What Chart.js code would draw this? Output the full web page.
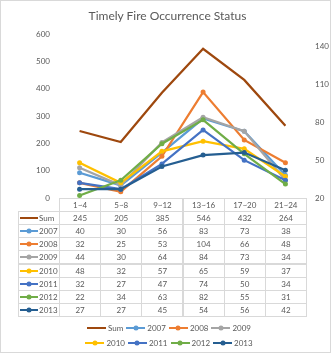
<!DOCTYPE html>
<html><head><meta charset="utf-8">
<script src="https://cdn.jsdelivr.net/npm/chart.js@4.4.1/dist/chart.umd.min.js"></script>
<style>
html,body{margin:0;padding:0;background:#fff;}
#wrap{position:relative;width:331px;height:353px;overflow:hidden;background:#fff;font-family:Lato,"Liberation Sans",sans-serif;color:#595959;}
#c{position:absolute;left:0;top:0;}
#frame{position:absolute;left:0;top:0;width:331px;height:353px;box-sizing:border-box;border:1px solid #d9d9d9;pointer-events:none;}
#title{position:absolute;left:0;top:8px;width:335px;text-align:center;font-size:12px;color:#595959;white-space:nowrap;}
.cell{position:absolute;box-sizing:border-box;border:1px solid #d9d9d9;display:flex;align-items:center;justify-content:center;font-size:8px;color:#595959;white-space:nowrap;}
.lab{justify-content:flex-start;padding-left:1px;border-color:#d9d9d9;}
.key{position:relative;display:inline-block;width:18px;height:2px;margin-right:1px;}
.dot{position:absolute;left:50%;top:50%;width:5px;height:5px;border-radius:50%;transform:translate(-50%,-50%);}
.lrow{position:absolute;left:0;width:338px;display:flex;justify-content:center;align-items:center;font-size:8px;color:#595959;}
.litem{display:flex;align-items:center;margin:0 1.5px;}
.litem .key{width:19px;margin-right:2px;}
</style>
</head><body>
<div id="wrap">
<canvas id="c" width="331" height="353"></canvas>
<div id="title">Timely Fire Occurrence Status</div>
<div id="tbl"></div>
<div id="legend"></div>
<div id="frame"></div>
</div>
<script>
const categories = ['1~4','5~8','9~12','13~16','17~20','21~24'];
const seriesNames = ['Sum','2007','2008','2009','2010','2011','2012','2013'];
const sumValues = [245,205,385,546,432,264];
const values2007 = [40,30,56,83,73,38];
const values2008 = [32,25,53,104,66,48];
const values2009 = [44,30,64,84,73,34];
const values2010 = [48,32,57,65,59,37];
const values2011 = [32,27,47,74,50,34];
const values2012 = [22,34,63,82,55,31];
const values2013 = [27,27,45,54,56,42];
const leftTicks = [0,100,200,300,400,500,600];
const rightTicks = [20,50,80,110,140];

const seriesValues = [sumValues,values2007,values2008,values2009,values2010,values2011,values2012,values2013];
const colors = ['#9E480E','#5B9BD5','#ED7D31','#A5A5A5','#FFC000','#4472C4','#70AD47','#255E91'];
const tickFont = {family:'Lato, "Liberation Sans", sans-serif', size:8};

const datasets = seriesNames.map((n,i)=>({
  label:n,
  data:seriesValues[i],
  yAxisID: i===0 ? 'y' : 'y1',
  borderColor:colors[i],
  backgroundColor:colors[i],
  borderWidth: i===0 ? 2.25 : 2.25,
  pointRadius: i===0 ? 0 : 2.5,
  pointBorderWidth:0,
  pointBackgroundColor:colors[i],
  tension:0,
  order: 8-i
}));

const chart = new Chart(document.getElementById('c'), {
  type:'line',
  data:{labels:categories, datasets},
  options:{
    responsive:false, animation:false, devicePixelRatio:1,
    layout:{padding:{top:34,bottom:155,left:0,right:0}},
    plugins:{legend:{display:false},tooltip:{enabled:false},title:{display:false}},
    scales:{
      x:{type:'category',offset:true,display:false},
      y:{position:'left',min:0,max:600,
         afterBuildTicks(s){s.ticks = leftTicks.map(v=>({value:v}));},
         afterFit(s){s.width=59;},
         ticks:{padding:9,color:'#595959',font:tickFont},
         grid:{display:false,drawTicks:false},border:{display:false}},
      y1:{position:'right',min:20,max:150,
         afterBuildTicks(s){s.ticks = rightTicks.map(v=>({value:v}));},
         afterFit(s){s.width=25;},
         ticks:{padding:9,color:'#595959',font:tickFont},
         grid:{display:false,drawTicks:false},border:{display:false}}
    }
  }
});

// data table aligned to the chart's x scale
(function(){
  const ca = chart.chartArea;
  const xs = chart.scales.x;
  const colW = (ca.right-ca.left)/categories.length;
  const rowH = 13.1;
  const labL = 18;
  const tbl = document.getElementById('tbl');
  function cell(x,y,w,h,html,cls){
    const d=document.createElement('div');
    d.className='cell'+(cls?' '+cls:'');
    d.style.left=x+'px';d.style.top=y+'px';d.style.width=(w+1)+'px';d.style.height=(h+1)+'px';
    d.innerHTML=html;tbl.appendChild(d);
  }
  const top = ca.bottom;
  categories.forEach((c,j)=>{
    const cx = xs.getPixelForValue(j);
    cell(cx-colW/2, top, colW, rowH, c);
  });
  seriesNames.forEach((n,i)=>{
    const y = top+(i+1)*rowH;
    const dot = i===0 ? '' : '<span class="dot" style="background:'+colors[i]+'"></span>';
    cell(labL, y, ca.left-labL, rowH, '<span class="key" style="background:'+colors[i]+'">'+dot+'</span>'+n, 'lab');
    seriesValues[i].forEach((v,j)=>{
      const cx = xs.getPixelForValue(j);
      cell(cx-colW/2, y, colW, rowH, String(v));
    });
  });
  // legend
  const leg = document.getElementById('legend');
  [[0,1,2,3],[4,5,6,7]].forEach((idx,r)=>{
    const row=document.createElement('div');
    row.className='lrow';
    row.style.top=(322+r*15)+'px';
    row.style.height='12px';
    idx.forEach(i=>{
      const it=document.createElement('div');it.className='litem';
      const dot = i===0 ? '' : '<span class="dot" style="background:'+colors[i]+'"></span>';
      it.innerHTML='<span class="key" style="background:'+colors[i]+'">'+dot+'</span><span>'+seriesNames[i]+'</span>';
      row.appendChild(it);
    });
    leg.appendChild(row);
  });
})();
</script>
</body></html>
